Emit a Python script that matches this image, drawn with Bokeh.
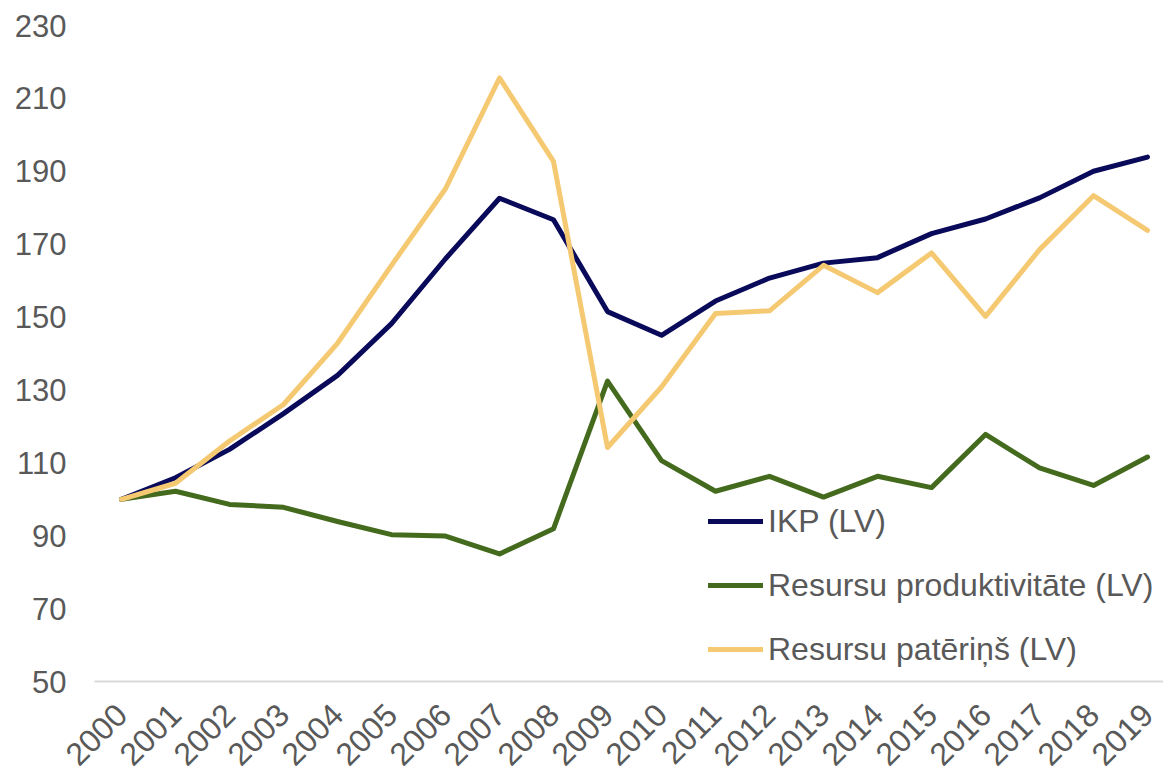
import math
from bokeh.plotting import figure
from bokeh.models import Range1d, Legend, LegendItem, FixedTicker
from bokeh.embed import file_html
from bokeh.resources import INLINE

years = list(range(2000, 2020))
ikp = [100, 105.9, 113.7, 123.5, 134, 148.2, 166, 182.6, 176.7, 151.5,
       145, 154.4, 160.7, 164.8, 166.3, 172.9, 176.9, 182.7, 190, 193.9]
produktivitate = [100, 102.2, 98.6, 97.8, 93.9, 90.3, 89.9, 85, 91.9, 132.4,
                  110.6, 102.2, 106.3, 100.6, 106.3, 103.2, 117.8, 108.6, 103.8, 111.6]
paterins = [100, 104.4, 116, 126, 142.8, 164.2, 185.2, 215.6, 192.7, 114.2,
            130.8, 151, 151.7, 164.2, 156.7, 167.6, 150.2, 168.5, 183.3, 173.8]
y_ticks = [50, 70, 90, 110, 130, 150, 170, 190, 210, 230]
labels = ["IKP (LV)", "Resursu produktivitāte (LV)", "Resursu patēriņš (LV)"]
colors = ["#0A0A5A", "#446A1D", "#F5C971"]

FONT = "Liberation Sans"
TXT = "#595959"

p = figure(frame_width=1069, frame_height=656, output_backend="svg", toolbar_location=None,
           x_range=Range1d(1999.5, 1999.5 + 1069 / 54),
           y_range=Range1d(50, 230),
           min_border_left=94, min_border_right=0, min_border_top=25, min_border_bottom=20)
p.outline_line_color = None
p.xgrid.grid_line_color = None
p.ygrid.grid_line_color = None

renderers = []
for ys, c in zip([ikp, produktivitate, paterins], colors):
    r = p.line(years, ys, line_color=c, line_width=5, line_join="round", line_cap="round")
    renderers.append(r)

p.yaxis.ticker = FixedTicker(ticks=y_ticks)
p.yaxis.axis_line_color = None
p.yaxis.major_tick_line_color = None
p.yaxis.minor_tick_line_color = None
p.yaxis.major_tick_out = 0
p.yaxis.major_tick_in = 0
p.yaxis.major_label_standoff = 28
p.yaxis.major_label_text_font = FONT
p.yaxis.major_label_text_font_size = "31px"
p.yaxis.major_label_text_color = TXT

p.xaxis.ticker = FixedTicker(ticks=years)
p.xaxis.axis_line_color = "#D9D9D9"
p.xaxis.axis_line_width = 2
p.xaxis.major_tick_line_color = None
p.xaxis.minor_tick_line_color = None
p.xaxis.major_tick_out = 0
p.xaxis.major_tick_in = 0
p.xaxis.major_label_orientation = math.pi / 4
p.xaxis.major_label_standoff = 28
p.xaxis.major_label_text_font = FONT
p.xaxis.major_label_text_font_size = "32px"
p.xaxis.major_label_text_color = TXT

legend = Legend(items=[LegendItem(label=l, renderers=[r]) for l, r in zip(labels, renderers)],
                location=(614, 12), padding=0, margin=0, spacing=24,
                glyph_width=55, glyph_height=40, label_height=40, label_standoff=5,
                label_text_font=FONT, label_text_font_size="32px", label_text_color=TXT,
                border_line_alpha=0, background_fill_alpha=0)
p.add_layout(legend)

open("out.html", "w").write(file_html(p, INLINE))
